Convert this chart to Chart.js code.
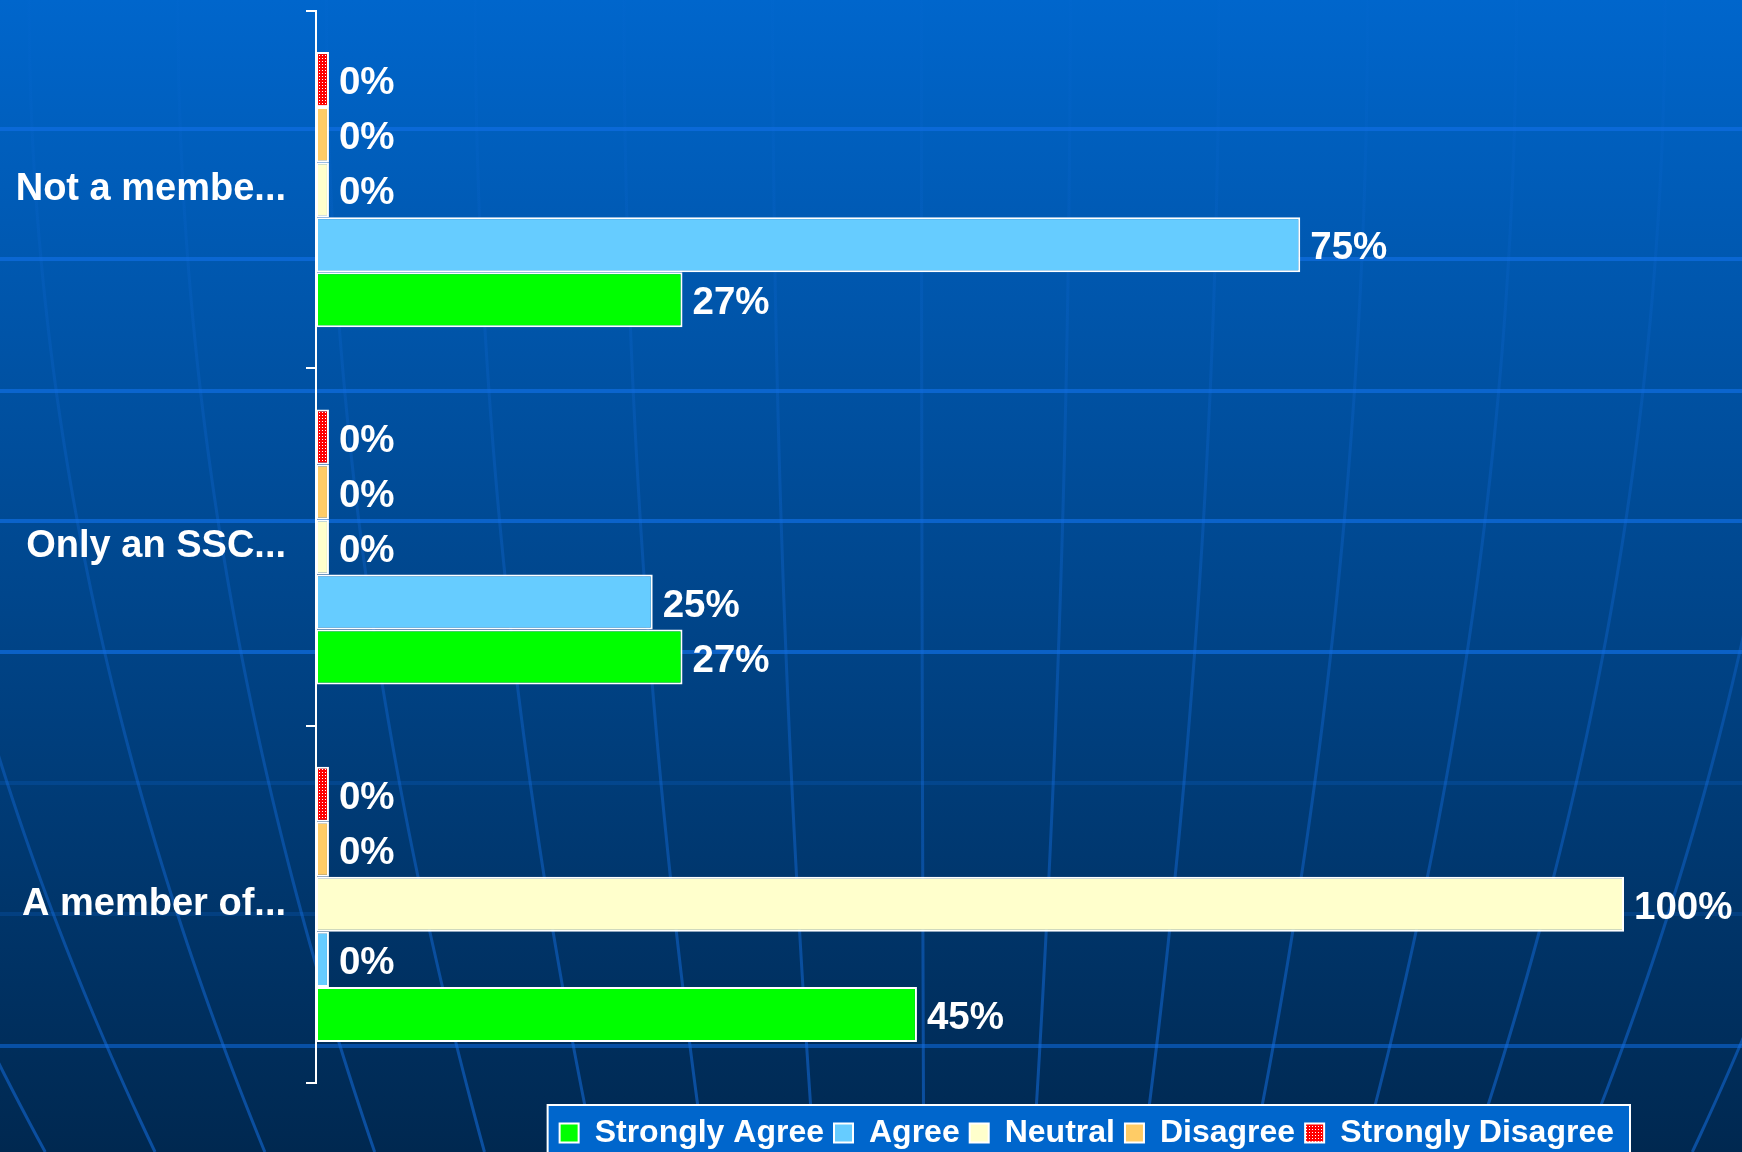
<!DOCTYPE html>
<html>
<head>
<meta charset="utf-8">
<script src="https://cdn.jsdelivr.net/npm/chart.js@4.4.0/dist/chart.umd.min.js"></script>
<style>
    html, body { margin: 0; padding: 0; background: #004a90; }
    #contenedor { width: 1742px; height: 1152px; position: relative; }
</style>
</head>
<body>
<div id="contenedor"><canvas id="grafica"></canvas></div>
<script>
// Datos de la encuesta (categorías de arriba hacia abajo)
const categorias = ['Not a membe...', 'Only an SSC...', 'A member of...'];
const nombresSeries = ['Strongly Agree', 'Agree', 'Neutral', 'Disagree', 'Strongly Disagree'];
const muyDeAcuerdo = [27.3, 27.3, 45.4];
const deAcuerdo = [75, 25, 0];
const neutral = [0, 0, 100];
const enDesacuerdo = [0, 0, 0];
const muyEnDesacuerdo = [0, 0, 0];
const ejeMin = -1;
const ejeMax = 100;

const fuente = "'Liberation Sans', Arial, sans-serif";

// Relleno rojo punteado para "Strongly Disagree"
function patronPuntos() {
    const c = document.createElement('canvas');
    c.width = 3; c.height = 3;
    const g = c.getContext('2d');
    g.fillStyle = '#FF0000';
    g.fillRect(0, 0, 3, 3);
    g.fillStyle = '#FFFFFF';
    g.fillRect(1, 1, 1, 1);
    return g.createPattern(c, 'repeat');
}

const colores = ['#00FF00', '#66CCFF', '#FFFFCC', '#FFCC66', patronPuntos()];
const valores = [muyDeAcuerdo, deAcuerdo, neutral, enDesacuerdo, muyEnDesacuerdo];

// Fondo azul con el globo, y marco de la leyenda
const fondoGlobo = {
    id: 'fondoGlobo',
    beforeDraw(chart) {
        const { ctx, width, height } = chart;
        ctx.save();
        const g = ctx.createLinearGradient(0, 0, 0, height);
        g.addColorStop(0, '#0066CC');
        g.addColorStop(1, '#002850');
        ctx.fillStyle = g;
        ctx.fillRect(0, 0, width, height);

        // paralelos
        ctx.lineWidth = 4;
        [[129, 0.7], [259, 0.7], [391, 0.7], [521, 0.7], [652, 0.7], [783, 0.2], [914, 0.2], [1046, 0.55]].forEach(([y, a]) => {
            ctx.strokeStyle = `rgba(15,110,225,${a})`;
            ctx.beginPath();
            ctx.moveTo(0, y);
            ctx.lineTo(width, y);
            ctx.stroke();
        });

        // meridianos curvos, casi invisibles arriba
        const sm = ctx.createLinearGradient(0, 0, 0, height);
        sm.addColorStop(0, 'rgba(20,110,225,0.04)');
        sm.addColorStop(0.5, 'rgba(20,110,225,0.3)');
        sm.addColorStop(1, 'rgba(20,110,225,0.55)');
        ctx.strokeStyle = sm;
        ctx.lineWidth = 3;
        for (let k = -8; k <= 8; k++) {
            const off = k * 139 - 8;
            ctx.beginPath();
            for (let y = 0; y <= height; y += 16) {
                const x = 930 + off * (1.07 - 2.11e-7 * y * y);
                if (y === 0) ctx.moveTo(x, y); else ctx.lineTo(x, y);
            }
            ctx.stroke();
        }

        // marco de la leyenda
        const leyenda = chart.legend;
        if (leyenda && leyenda.legendHitBoxes && leyenda.legendHitBoxes.length) {
            const cajas = leyenda.legendHitBoxes;
            const ultima = cajas[cajas.length - 1];
            const x0 = cajas[0].left - 12;
            const x1 = ultima.left + ultima.width + 16;
            const y0 = leyenda.top - 2;
            ctx.fillStyle = '#0066CC';
            ctx.fillRect(x0, y0, x1 - x0, height - y0 + 10);
            ctx.strokeStyle = '#FFFFFF';
            ctx.lineWidth = 2;
            ctx.strokeRect(x0, y0, x1 - x0, height - y0 + 10);
        }
        ctx.restore();
    }
};

// Porcentajes al final de cada barra
const etiquetasValor = {
    id: 'etiquetasValor',
    afterDatasetsDraw(chart) {
        const { ctx } = chart;
        ctx.save();
        ctx.font = `bold 38.5px ${fuente}`;
        ctx.fillStyle = '#FFFFFF';
        ctx.textAlign = 'left';
        ctx.textBaseline = 'middle';
        chart.data.datasets.forEach((ds, i) => {
            const meta = chart.getDatasetMeta(i);
            if (meta.hidden) return;
            meta.data.forEach((barra, j) => {
                ctx.fillText(Math.round(ds.data[j]) + '%', barra.x + 10, barra.y + 4);
            });
        });
        ctx.restore();
    }
};

// De abajo hacia arriba dentro del grupo: Strongly Agree queda abajo
const datasets = nombresSeries.map((nombre, i) => ({
    label: nombre,
    data: valores[i],
    backgroundColor: colores[i],
    borderColor: '#FFFFFF',
    borderWidth: 2,
    borderSkipped: false,
    base: ejeMin
})).reverse();

new Chart(document.getElementById('grafica'), {
    type: 'bar',
    data: { labels: categorias, datasets },
    options: {
        indexAxis: 'y',
        responsive: true,
        maintainAspectRatio: false,
        animation: false,
        categoryPercentage: 0.77,
        barPercentage: 1.0,
        layout: { padding: { top: 11, left: 16, right: 118, bottom: -7 } },
        scales: {
            x: {
                type: 'linear',
                min: ejeMin,
                max: ejeMax,
                afterFit(scale) { scale.height = 24; },
                grid: { display: false },
                border: { display: false },
                ticks: { display: false }
            },
            y: {
                afterFit(scale) {
                    scale.width = 300;
                    scale.paddingTop = 0;
                    scale.paddingBottom = 0;
                },
                border: { display: true, color: '#FFFFFF', width: 2 },
                grid: {
                    display: true, drawOnChartArea: false, drawTicks: true,
                    tickLength: 10, color: '#FFFFFF', lineWidth: 2, offset: true
                },
                ticks: {
                    color: '#FFFFFF',
                    padding: 20,
                    font: { family: fuente, size: 38, weight: 'bold' }
                }
            }
        },
        plugins: {
            tooltip: { enabled: false },
            legend: {
                position: 'bottom',
                align: 'end',
                reverse: true,
                labels: {
                    color: '#FFFFFF',
                    boxWidth: 19,
                    boxHeight: 19,
                    padding: 10,
                    font: { family: fuente, size: 32, weight: 'bold' }
                }
            }
        }
    },
    plugins: [fondoGlobo, etiquetasValor]
});
</script>
</body>
</html>
